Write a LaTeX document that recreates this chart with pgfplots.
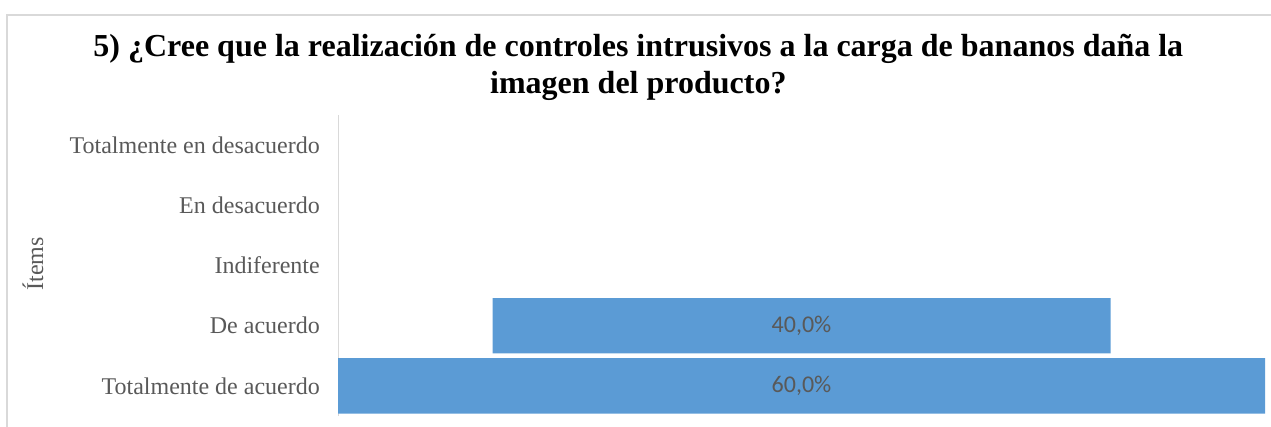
\documentclass[border=0pt]{standalone}
\usepackage{pgfplots}
\pgfplotsset{compat=1.18}
\usepackage{pgfplotstable}
\usepackage{fontspec}
\setmainfont{Liberation Serif}
\newfontfamily\calibri{Carlito}
\definecolor{barblue}{HTML}{5B9BD5}
\definecolor{labgray}{HTML}{595959}
\definecolor{framegray}{HTML}{D9D9D9}

% pos: 0 = Totalmente de acuerdo (bottom) ... 4 = Totalmente en desacuerdo (top)
\pgfplotstableread{
pos offset value
0   0      60
1   10     40
2   30     0
3   30     0
4   30     0
}\bars
\pgfplotstableread{
pos center value
0   30     60
1   30     40
}\labels

\pgfplotsset{chartgeom/.style={
  at={(338bp,11bp)}, anchor=south west,
  scale only axis, width=927bp, height=301bp,
  xmin=0, xmax=60, ymin=-0.5, ymax=4.5,
}}

\begin{document}
\begin{tikzpicture}
\useasboundingbox (0bp,0bp) rectangle (1271bp,427bp);
\draw[framegray, line width=1.5bp] (7bp,-2bp) -- (7bp,412bp) -- (1273bp,412bp);
\begin{axis}[
  chartgeom,
  xbar stacked,
  bar width=0.92,
  ytick={0,1,2,3,4},
  yticklabels={Totalmente de acuerdo, De acuerdo, Indiferente, En desacuerdo, Totalmente en desacuerdo},
  xtick=\empty,
  axis x line=none,
  axis y line*=left,
  y axis line style={framegray, line width=1bp, -},
  major tick length=0pt,
  yticklabel style={font=\fontsize{24bp}{26bp}\selectfont, text=labgray, inner sep=0pt, xshift=-18bp},
  ylabel={Ítems},
  ylabel style={font=\fontsize{24bp}{26bp}\selectfont, text=labgray, at={(axis description cs:-0.329,0.505)}, anchor=center, rotate=0},
  title={5) ¿Cree que la realización de controles intrusivos a la carga de bananos daña la\\imagen del producto?},
  title style={font=\bfseries\fontsize{32bp}{37bp}\selectfont, align=center, at={(axis description cs:0.324,1.139)}, anchor=center},
  clip=false,
]
\addplot[draw=none, fill=none] table[x=offset, y=pos] {\bars};
\addplot[draw=none, fill=barblue] table[x=value, y=pos] {\bars};
\end{axis}
\begin{axis}[
  chartgeom,
  hide axis,
  clip=false,
]
\addplot[only marks, mark=none,
  point meta=explicit,
  nodes near coords={\pgfmathprintnumber[fixed, fixed zerofill, precision=1, use comma, assume math mode=true]{\pgfplotspointmeta}\%},
  nodes near coords style={anchor=center, font=\calibri\fontsize{24bp}{26bp}\selectfont, text=labgray}]
  table[x=center, y=pos, meta=value] {\labels};
\end{axis}
\end{tikzpicture}
\end{document}
